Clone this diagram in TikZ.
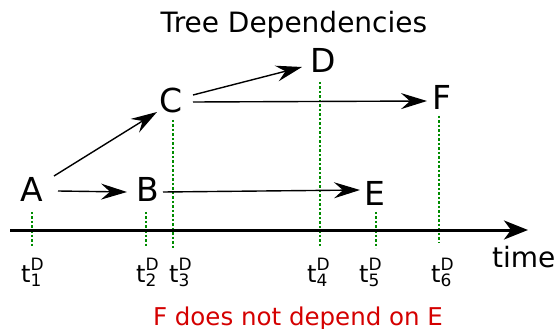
\documentclass[tikz,border=0pt]{standalone}
\usepackage{fontspec}
\setmainfont{DejaVu Sans}
\usetikzlibrary{arrows.meta}
\definecolor{depgreen}{RGB}{0,140,0}
\definecolor{depred}{RGB}{212,0,0}
\tikzset{
  letter/.style={anchor=base, inner sep=0pt, font=\fontsize{33}{40}\selectfont},
  conn/.style={line width=1.4pt, -{Stealth[length=26pt,width=16pt,inset=9pt]}},
  guide/.style={depgreen, line width=1.4pt, dash pattern=on 2.5pt off 2pt},
  tlabel/.style={anchor=base west, inner sep=0pt, font=\fontsize{24}{28}\selectfont},
  axis/.style={line width=3pt, -{Stealth[length=24pt,width=19pt,inset=7pt]}},
}
\newcommand{\tdl}[1]{t{\fontsize{17}{20}\selectfont\rlap{\raisebox{-4pt}{#1}}\raisebox{12pt}{D}}}
\begin{document}
\begin{tikzpicture}[x=1pt,y=-1pt]
\useasboundingbox (0,0) rectangle (558,329);
\node[anchor=base, inner sep=0pt, font=\fontsize{28}{34}\selectfont] (title) at (294,33) {Tree Dependencies};
% event nodes
\node[letter] (A) at (32,202) {A};
\node[letter] (B) at (148,202) {B};
\node[letter] (C) at (171,113) {C};
\node[letter] (D) at (323,73) {D};
\node[letter] (E) at (375,206) {E};
\node[letter] (F) at (442,110) {F};
% tick end coordinates
\coordinate (tA) at (32,247);
\coordinate (tB) at (146,247);
\coordinate (tC) at (173,248);
\coordinate (tD) at (320,248);
\coordinate (tE) at (376,248);
\coordinate (tF) at (439,243);
% green guides
\draw[guide] ([shift={(0,10)}]A.base) -- (tA);
\draw[guide] ([shift={(-2,10)}]B.base) -- (tB);
\draw[guide] ([shift={(2,7)}]C.base) -- (tC);
\draw[guide] ([shift={(-3,9)}]D.base) -- (tD);
\draw[guide] ([shift={(1,6)}]E.base) -- (tE);
\draw[guide] ([shift={(-3,6)}]F.base) -- (tF);
% time axis
\coordinate (ax0) at (10,230);
\coordinate (ax1) at (528,230);
\draw[axis] (ax0) -- (ax1);
\node[anchor=base west, inner sep=0pt, font=\fontsize{28}{32}\selectfont] (time) at (492,267) {time};
% dependencies
\draw[conn] ([shift={(26,-11)}]A.base) -- ([shift={(-21,-10)}]B.base);
\draw[conn] ([shift={(22,-26)}]A.base) -- ([shift={(-14,-1)}]C.base);
\draw[conn] ([shift={(22,-18)}]C.base) -- ([shift={(-21,-6)}]D.base);
\draw[conn] ([shift={(22,-11)}]C.base) -- ([shift={(-15,-9)}]F.base);
\draw[conn] ([shift={(15,-10)}]B.base) -- ([shift={(-15,-16)}]E.base);
% time labels
\node[tlabel] (t1) at (21,282) {\tdl{1}};
\node[tlabel] (t2) at (136,282) {\tdl{2}};
\node[tlabel] (t3) at (169,282) {\tdl{3}};
\node[tlabel] (t4) at (307,282) {\tdl{4}};
\node[tlabel] (t5) at (359,282) {\tdl{5}};
\node[tlabel] (t6) at (431,282) {\tdl{6}};
\node[anchor=base, inner sep=0pt, text=depred, font=\fontsize{24.5}{30}\selectfont] (note) at (298,325) {F does not depend on E};
\end{tikzpicture}
\end{document}
